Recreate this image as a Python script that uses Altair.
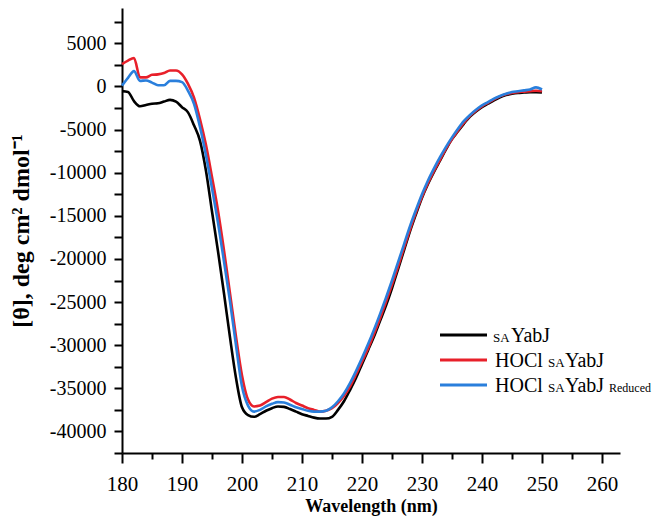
import altair as alt
import pandas as pd

wavelength = list(range(180, 251))

sayabj = [
    -540, -640, -1700, -2300, -2150, -2000, -1950, -1750, -1550, -1750,
    -2400, -3000, -4500, -6300, -9800, -14500, -19100, -24000, -29100, -33800,
    -37200, -38100, -38300, -38000, -37600, -37300, -37100, -37150, -37400, -37700,
    -38000, -38200, -38400, -38500, -38500, -38300, -37500, -36500, -35200, -33800,
    -32200, -30600, -29000, -27200, -25400, -23400, -21200, -19000, -16800, -14800,
    -12900, -11300, -9900, -8600, -7300, -6100, -5200, -4300, -3500, -2900,
    -2400, -2000, -1600, -1250, -1000, -850, -750, -700, -650, -650,
    -700,
]

hocl = [
    2600, 3000, 3300, 1050, 1050, 1350, 1400, 1550, 1850, 1850,
    1400, 300, -1300, -3800, -6800, -10500, -14400, -19000, -24000, -29000,
    -33500, -36300, -37100, -37000, -36600, -36200, -36000, -36000, -36300, -36700,
    -37000, -37300, -37500, -37700, -37600, -37300, -36700, -35900, -34800, -33400,
    -31900, -30400, -28700, -26900, -25000, -23000, -20900, -18700, -16600, -14600,
    -12800, -11200, -9800, -8500, -7200, -6100, -5100, -4200, -3400, -2800,
    -2300, -1900, -1500, -1150, -900, -750, -650, -600, -550, -500,
    -550,
]

hocl_reduced = [
    100, 1000, 1780, 650, 700, 450, 150, 150, 650, 650,
    500, -500, -2000, -4700, -8000, -11800, -15800, -20300, -24900, -30000,
    -34800, -37000, -37700, -37500, -37100, -36800, -36600, -36650, -36900, -37200,
    -37400, -37600, -37700, -37700, -37600, -37200, -36500, -35600, -34400, -33000,
    -31500, -29900, -28200, -26400, -24500, -22500, -20400, -18300, -16200, -14300,
    -12500, -10900, -9500, -8200, -7000, -5900, -4900, -4000, -3300, -2700,
    -2200, -1800, -1400, -1100, -850, -650, -550, -450, -350, -100,
    -350,
]

series_names = ["saYabJ", "HOCl saYabJ", "HOCl saYabJ Reduced"]
series_colors = ["#000000", "#e8202a", "#2a7fdc"]

x_ticks = list(range(180, 261, 5))
y_ticks = list(range(-42500, 9100, 2500))

FONT = "Liberation Serif"

frames = []
for name, vals in zip(series_names, [sayabj, hocl, hocl_reduced]):
    frames.append(pd.DataFrame({"wavelength": wavelength, "value": vals, "series": name}))

x_enc = alt.X(
    "wavelength:Q",
    scale=alt.Scale(domain=[180, 263], nice=False, zero=False),
    axis=alt.Axis(
        values=x_ticks,
        labelExpr="datum.value % 10 === 0 ? datum.label : ''",
        tickSize={"condition": {"test": "datum.value % 10 === 0", "value": 10}, "value": 6},
        title="Wavelength (nm)",
        titleFontSize=18,
        titleFontWeight="bold",
        titlePadding=3,
        labelPadding=10,
        labelFontSize=21,
        labelFlush=False,
    ),
)
y_enc = alt.Y(
    "value:Q",
    scale=alt.Scale(domain=[-42500, 9100], nice=False, zero=False),
    axis=alt.Axis(
        values=y_ticks,
        labelExpr="datum.value % 5000 === 0 ? '' + datum.value : ''",
        tickSize=8,
        title="[θ], deg cm² dmol⁻¹",
        titleFontSize=24,
        titleFontWeight="bold",
        titlePadding=16,
        labelPadding=8,
        labelFlush=False,
    ),
)

layers = []
for i, f in enumerate(frames):
    layers.append(
        alt.Chart(f)
        .mark_line(strokeWidth=2.6, interpolate="monotone", color=series_colors[i])
        .encode(x=x_enc, y=y_enc)
    )

# legend
leg_rows_y = [327, 352, 377]
leg_pieces = [
    [("SA", 371, 13), ("YabJ", 389, 20)],
    [("HOCl", 373, 20), ("SA", 426, 13), ("YabJ", 443, 20)],
    [("HOCl", 373, 20), ("SA", 426, 13), ("YabJ", 443, 20), ("Reduced", 487, 12)],
]
dummy = pd.DataFrame({"k": [0]})
for i, yy in enumerate(leg_rows_y):
    layers.append(
        alt.Chart(dummy)
        .mark_rule(strokeWidth=3, color=series_colors[i])
        .encode(x=alt.value(318), x2=alt.value(365), y=alt.value(yy))
    )
    for txt, xx, fs in leg_pieces[i]:
        layers.append(
            alt.Chart(dummy)
            .mark_text(text=txt, font=FONT, fontSize=fs, align="left", baseline="alphabetic", color="black")
            .encode(x=alt.value(xx), y=alt.value(yy + 7))
        )

chart = (
    alt.layer(*layers)
    .properties(
        width=498,
        height=445,
        autosize=alt.AutoSizeParams(type="none"),
        padding={"left": 114, "top": 0, "right": 38, "bottom": 64},
    )
    .configure_view(stroke=None)
    .configure_axis(
        domainColor="black",
        domainWidth=2,
        tickColor="black",
        tickWidth=2,
        grid=False,
        labelFont=FONT,
        labelFontSize=20,
        labelColor="black",
        titleFont=FONT,
        titleColor="black",
    )
)

chart.save("out.html", embed_options={"renderer": "svg", "actions": False})
